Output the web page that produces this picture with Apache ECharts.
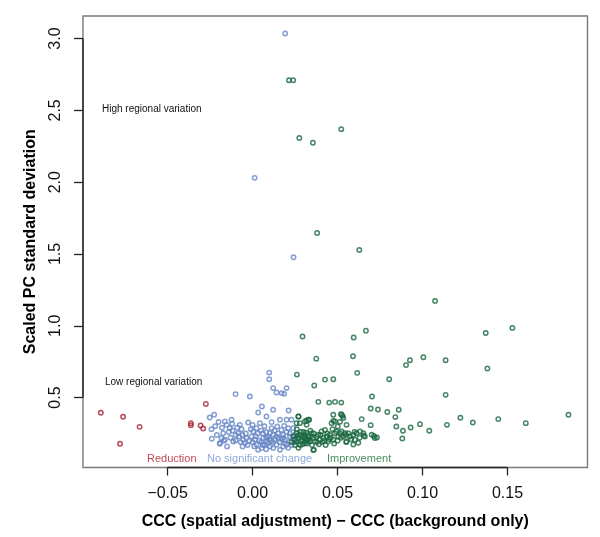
<!DOCTYPE html>
<html>
<head>
<meta charset="utf-8">
<script src="https://cdn.jsdelivr.net/npm/echarts@6/dist/echarts.min.js"></script>
<style>
  html, body { margin: 0; padding: 0; background: #fff; }
  #chart { width: 600px; height: 537px; }
</style>
</head>
<body>
<div id="chart"></div>
<script>
// axis ranges and ticks
var xRange = [-0.0998, 0.1971];
var yRange = [0.013, 3.157];
var xTicks = [-0.05, 0.00, 0.05, 0.10, 0.15];
var yTicks = [0.5, 1.0, 1.5, 2.0, 2.5, 3.0];

// points: [CCC difference, scaled PC sd]
var reductionPts = [
  [-0.0893, 0.394], [-0.0762, 0.366], [-0.0665, 0.296], [-0.0780, 0.178],
  [-0.0275, 0.456], [-0.0363, 0.322], [-0.0363, 0.308], [-0.0306, 0.305],
  [-0.0291, 0.285]
];

var noChangePts = [
  [0.0192, 3.035], [0.0012, 2.030], [0.0241, 1.477],
  [0.0098, 0.674], [0.0098, 0.628], [0.0121, 0.566], [0.0141, 0.535],
  [0.0171, 0.531], [0.0200, 0.566], [0.0186, 0.526], [-0.0100, 0.524],
  [-0.0016, 0.507], [0.0055, 0.438], [0.0033, 0.396], [0.0121, 0.415],
  [0.0212, 0.410], [0.0082, 0.368],
  [-0.0226, 0.380], [-0.0252, 0.361], [-0.0163, 0.333], [-0.0153, 0.310],
  [-0.0124, 0.345], [-0.0120, 0.317], [-0.0134, 0.287], [-0.0118, 0.271],
  [-0.0242, 0.280], [-0.0240, 0.213], [-0.0173, 0.252], [-0.0183, 0.217],
  [-0.0193, 0.183], [-0.0163, 0.206], [-0.0114, 0.194], [-0.0100, 0.201],
  [-0.0075, 0.310], [-0.0065, 0.280], [-0.0085, 0.252], [-0.0079, 0.229],
  [-0.0055, 0.206], [-0.0036, 0.218], [-0.0045, 0.183], [-0.0059, 0.160],
  [-0.0026, 0.326], [0.0004, 0.264], [0.0023, 0.287], [0.0043, 0.322],
  [-0.0006, 0.229], [0.0014, 0.206], [0.0023, 0.171], [0.0033, 0.136],
  [0.0053, 0.148], [0.0063, 0.218], [0.0082, 0.194], [0.0072, 0.171],
  [0.0092, 0.229], [0.0102, 0.252], [0.0112, 0.329], [0.0112, 0.287],
  [0.0121, 0.241], [0.0131, 0.206], [0.0102, 0.160], [0.0121, 0.148],
  [0.0141, 0.171], [0.0151, 0.218], [0.0161, 0.345], [0.0170, 0.275],
  [0.0180, 0.241], [0.0190, 0.206], [0.0200, 0.345], [0.0210, 0.287],
  [0.0220, 0.229], [0.0229, 0.345], [0.0220, 0.194], [0.0200, 0.171],
  [0.0180, 0.160], [0.0161, 0.136], [0.0239, 0.287], [0.0145, 0.299],
  [0.0186, 0.303], [-0.0193, 0.178],
  [0.0000, 0.190], [0.0040, 0.200], [0.0060, 0.250], [0.0080, 0.260],
  [0.0100, 0.210], [0.0140, 0.230], [0.0160, 0.190], [0.0030, 0.250],
  [-0.0020, 0.200], [-0.0040, 0.250], [0.0180, 0.220], [0.0200, 0.260],
  [0.0120, 0.190], [-0.0100, 0.240], [-0.0130, 0.220], [0.0060, 0.170],
  [0.0090, 0.180], [0.0010, 0.160], [-0.0030, 0.170], [0.0150, 0.250],
  [0.0220, 0.250], [0.0240, 0.210], [0.0250, 0.240], [-0.0210, 0.240],
  [0.0070, 0.300], [0.0050, 0.270], [-0.0150, 0.160], [0.0230, 0.170],
  [-0.0220, 0.300], [-0.0200, 0.330], [-0.0180, 0.290], [-0.0140, 0.260],
  [-0.0090, 0.290], [-0.0060, 0.240], [-0.0010, 0.280], [0.0020, 0.230],
  [0.0050, 0.190], [0.0080, 0.220], [0.0110, 0.200], [0.0130, 0.270],
  [0.0170, 0.210], [0.0190, 0.180], [0.0210, 0.150], [0.0080, 0.140],
  [-0.0070, 0.190], [-0.0170, 0.200], [0.0000, 0.310], [0.0260, 0.200]
];

var improvementPts = [
  [0.0214, 2.710], [0.0239, 2.710], [0.0275, 2.307], [0.0355, 2.274],
  [0.0522, 2.369], [0.0380, 1.646], [0.0628, 1.528], [0.1074, 1.173],
  [0.1372, 0.950], [0.1529, 0.985], [0.1382, 0.702], [0.0294, 0.925],
  [0.0595, 0.918], [0.0667, 0.966], [0.0375, 0.771], [0.0591, 0.788],
  [0.0616, 0.672], [0.0426, 0.625], [0.0475, 0.628], [0.0363, 0.584],
  [0.0804, 0.628], [0.0903, 0.726], [0.0926, 0.760], [0.1005, 0.781],
  [0.1136, 0.760], [0.1136, 0.519], [0.0703, 0.507], [0.0387, 0.470],
  [0.0451, 0.465], [0.0485, 0.470], [0.0522, 0.465], [0.0695, 0.424],
  [0.0738, 0.417], [0.0793, 0.399], [0.0860, 0.415], [0.0840, 0.364],
  [0.1859, 0.380], [0.1223, 0.359], [0.1296, 0.326], [0.1446, 0.350],
  [0.1608, 0.322], [0.1144, 0.310], [0.0985, 0.315], [0.1040, 0.269],
  [0.0930, 0.292], [0.0846, 0.299], [0.0885, 0.269], [0.0881, 0.215],
  [0.0695, 0.308], [0.0642, 0.350], [0.0714, 0.232], [0.0732, 0.222],
  [0.0655, 0.236], [0.0622, 0.185], [0.0593, 0.173], [0.0551, 0.190],
  [0.0357, 0.134], [0.0261, 0.660], [0.0271, 0.368], [0.0318, 0.340],
  [0.0333, 0.345], [0.0520, 0.385], [0.0530, 0.371], [0.0475, 0.338],
  [0.0514, 0.331], [0.0501, 0.299],
  [0.0259, 0.252], [0.0249, 0.206], [0.0269, 0.218], [0.0288, 0.194],
  [0.0278, 0.241], [0.0298, 0.229], [0.0308, 0.183], [0.0318, 0.206],
  [0.0328, 0.229], [0.0337, 0.194], [0.0347, 0.252], [0.0357, 0.218],
  [0.0367, 0.194], [0.0377, 0.229], [0.0386, 0.241], [0.0396, 0.206],
  [0.0406, 0.264], [0.0416, 0.218], [0.0426, 0.275], [0.0436, 0.229],
  [0.0445, 0.194], [0.0455, 0.241], [0.0475, 0.206], [0.0485, 0.252],
  [0.0494, 0.264], [0.0504, 0.229], [0.0514, 0.252], [0.0524, 0.264],
  [0.0534, 0.229], [0.0544, 0.252], [0.0553, 0.194], [0.0563, 0.252],
  [0.0573, 0.229], [0.0593, 0.241], [0.0602, 0.206], [0.0612, 0.252],
  [0.0632, 0.264], [0.0652, 0.252], [0.0661, 0.229],
  [0.0701, 0.241], [0.0720, 0.218],
  [0.0269, 0.368], [0.0259, 0.322], [0.0278, 0.322], [0.0308, 0.333],
  [0.0328, 0.345], [0.0318, 0.310], [0.0361, 0.136], [0.0465, 0.322],
  [0.0485, 0.333], [0.0475, 0.380], [0.0524, 0.380], [0.0534, 0.357],
  [0.0553, 0.310],
  [0.0240, 0.230], [0.0230, 0.190], [0.0250, 0.170], [0.0280, 0.170],
  [0.0300, 0.260], [0.0320, 0.180], [0.0340, 0.270], [0.0290, 0.210],
  [0.0270, 0.150], [0.0310, 0.240], [0.0260, 0.280], [0.0330, 0.210],
  [0.0350, 0.170], [0.0380, 0.190], [0.0400, 0.240], [0.0420, 0.200],
  [0.0440, 0.250], [0.0460, 0.220], [0.0480, 0.180], [0.0500, 0.200],
  [0.0520, 0.220], [0.0550, 0.240], [0.0580, 0.210], [0.0600, 0.260],
  [0.0630, 0.220], [0.0470, 0.280], [0.0430, 0.170],
  [0.0255, 0.190], [0.0265, 0.235], [0.0285, 0.260], [0.0295, 0.175],
  [0.0305, 0.220], [0.0315, 0.255], [0.0325, 0.195], [0.0345, 0.230],
  [0.0360, 0.250], [0.0390, 0.175], [0.0410, 0.190], [0.0450, 0.210]
];

var groupColors = ['#a51f2f', '#6586c6', '#18673f'];
var groupLabelColors = ['#c04a55', '#8ea9db', '#4b8d62'];

function fmtTick(v) {
  return v.toFixed(2).replace('-', '\u2212');
}

function pointSeries(name, data, color) {
  return {
    name: name,
    type: 'scatter',
    data: data,
    symbol: 'circle',
    symbolSize: 4.4,
    itemStyle: { color: 'rgba(0,0,0,0)', borderColor: color, borderWidth: 1.5 },
    silent: true,
    z: 3
  };
}

var chart = echarts.init(document.getElementById('chart'));
var fontFam = 'Liberation Sans, Arial, sans-serif';

chart.setOption({
  backgroundColor: '#fff',
  animation: false,
  grid: {
    left: 83, right: 12.5, top: 16, bottom: 69.5,
    show: true, borderColor: '#7a7a7a', borderWidth: 1.4, backgroundColor: 'transparent'
  },
  xAxis: {
    type: 'value',
    min: xRange[0], max: xRange[1],
    name: 'CCC (spatial adjustment) \u2212 CCC (background only)',
    nameLocation: 'middle', nameGap: 46,
    nameTextStyle: { fontFamily: fontFam, fontSize: 16, fontWeight: 'bold', color: '#000' },
    axisLine: { show: false, onZero: false },
    splitLine: { show: false },
    axisTick: { show: true, inside: false, length: 8, customValues: xTicks,
                lineStyle: { color: '#222', width: 1.3 } },
    axisLabel: { customValues: xTicks, formatter: fmtTick, margin: 18,
                 fontFamily: fontFam, fontSize: 16, color: '#111' }
  },
  yAxis: {
    type: 'value',
    min: yRange[0], max: yRange[1],
    name: 'Scaled PC standard deviation',
    nameLocation: 'middle', nameGap: 44, nameRotate: 90,
    nameTextStyle: { fontFamily: fontFam, fontSize: 16, fontWeight: 'bold', color: '#000' },
    axisLine: { show: false, onZero: false },
    splitLine: { show: false },
    axisTick: { show: true, inside: false, length: 9, customValues: yTicks,
                lineStyle: { color: '#222', width: 1.3 } },
    axisLabel: { customValues: yTicks, formatter: function (v) { return v.toFixed(1); },
                 rotate: 90, margin: 19, fontFamily: fontFam, fontSize: 16, color: '#111' }
  },
  graphic: [
    { type: 'text', left: 102, top: 104, silent: true,
      style: { text: 'High regional variation', fontFamily: fontFam, fontSize: 10, fill: '#111' } },
    { type: 'text', left: 105, top: 377, silent: true,
      style: { text: 'Low regional variation', fontFamily: fontFam, fontSize: 10, fill: '#111' } },
    { type: 'text', left: 147, top: 453, silent: true,
      style: { text: 'Reduction', fontFamily: fontFam, fontSize: 11, fill: groupLabelColors[0] } },
    { type: 'text', left: 207, top: 453, silent: true,
      style: { text: 'No significant change', fontFamily: fontFam, fontSize: 11, fill: groupLabelColors[1] } },
    { type: 'text', left: 327, top: 453, silent: true,
      style: { text: 'Improvement', fontFamily: fontFam, fontSize: 11, fill: groupLabelColors[2] } }
  ],
  series: [
    // R-style axis lines spanning first to last tick
    { type: 'line', data: [[xTicks[0], yRange[0]], [xTicks[xTicks.length - 1], yRange[0]]],
      symbol: 'none', clip: false, silent: true, lineStyle: { color: '#222', width: 1.4 }, z: 4 },
    { type: 'line', data: [[xRange[0], yTicks[0]], [xRange[0], yTicks[yTicks.length - 1]]],
      symbol: 'none', clip: false, silent: true, lineStyle: { color: '#222', width: 1.4 }, z: 4 },
    pointSeries('Reduction', reductionPts, groupColors[0]),
    pointSeries('No significant change', noChangePts, groupColors[1]),
    pointSeries('Improvement', improvementPts, groupColors[2])
  ]
});
</script>
</body>
</html>
